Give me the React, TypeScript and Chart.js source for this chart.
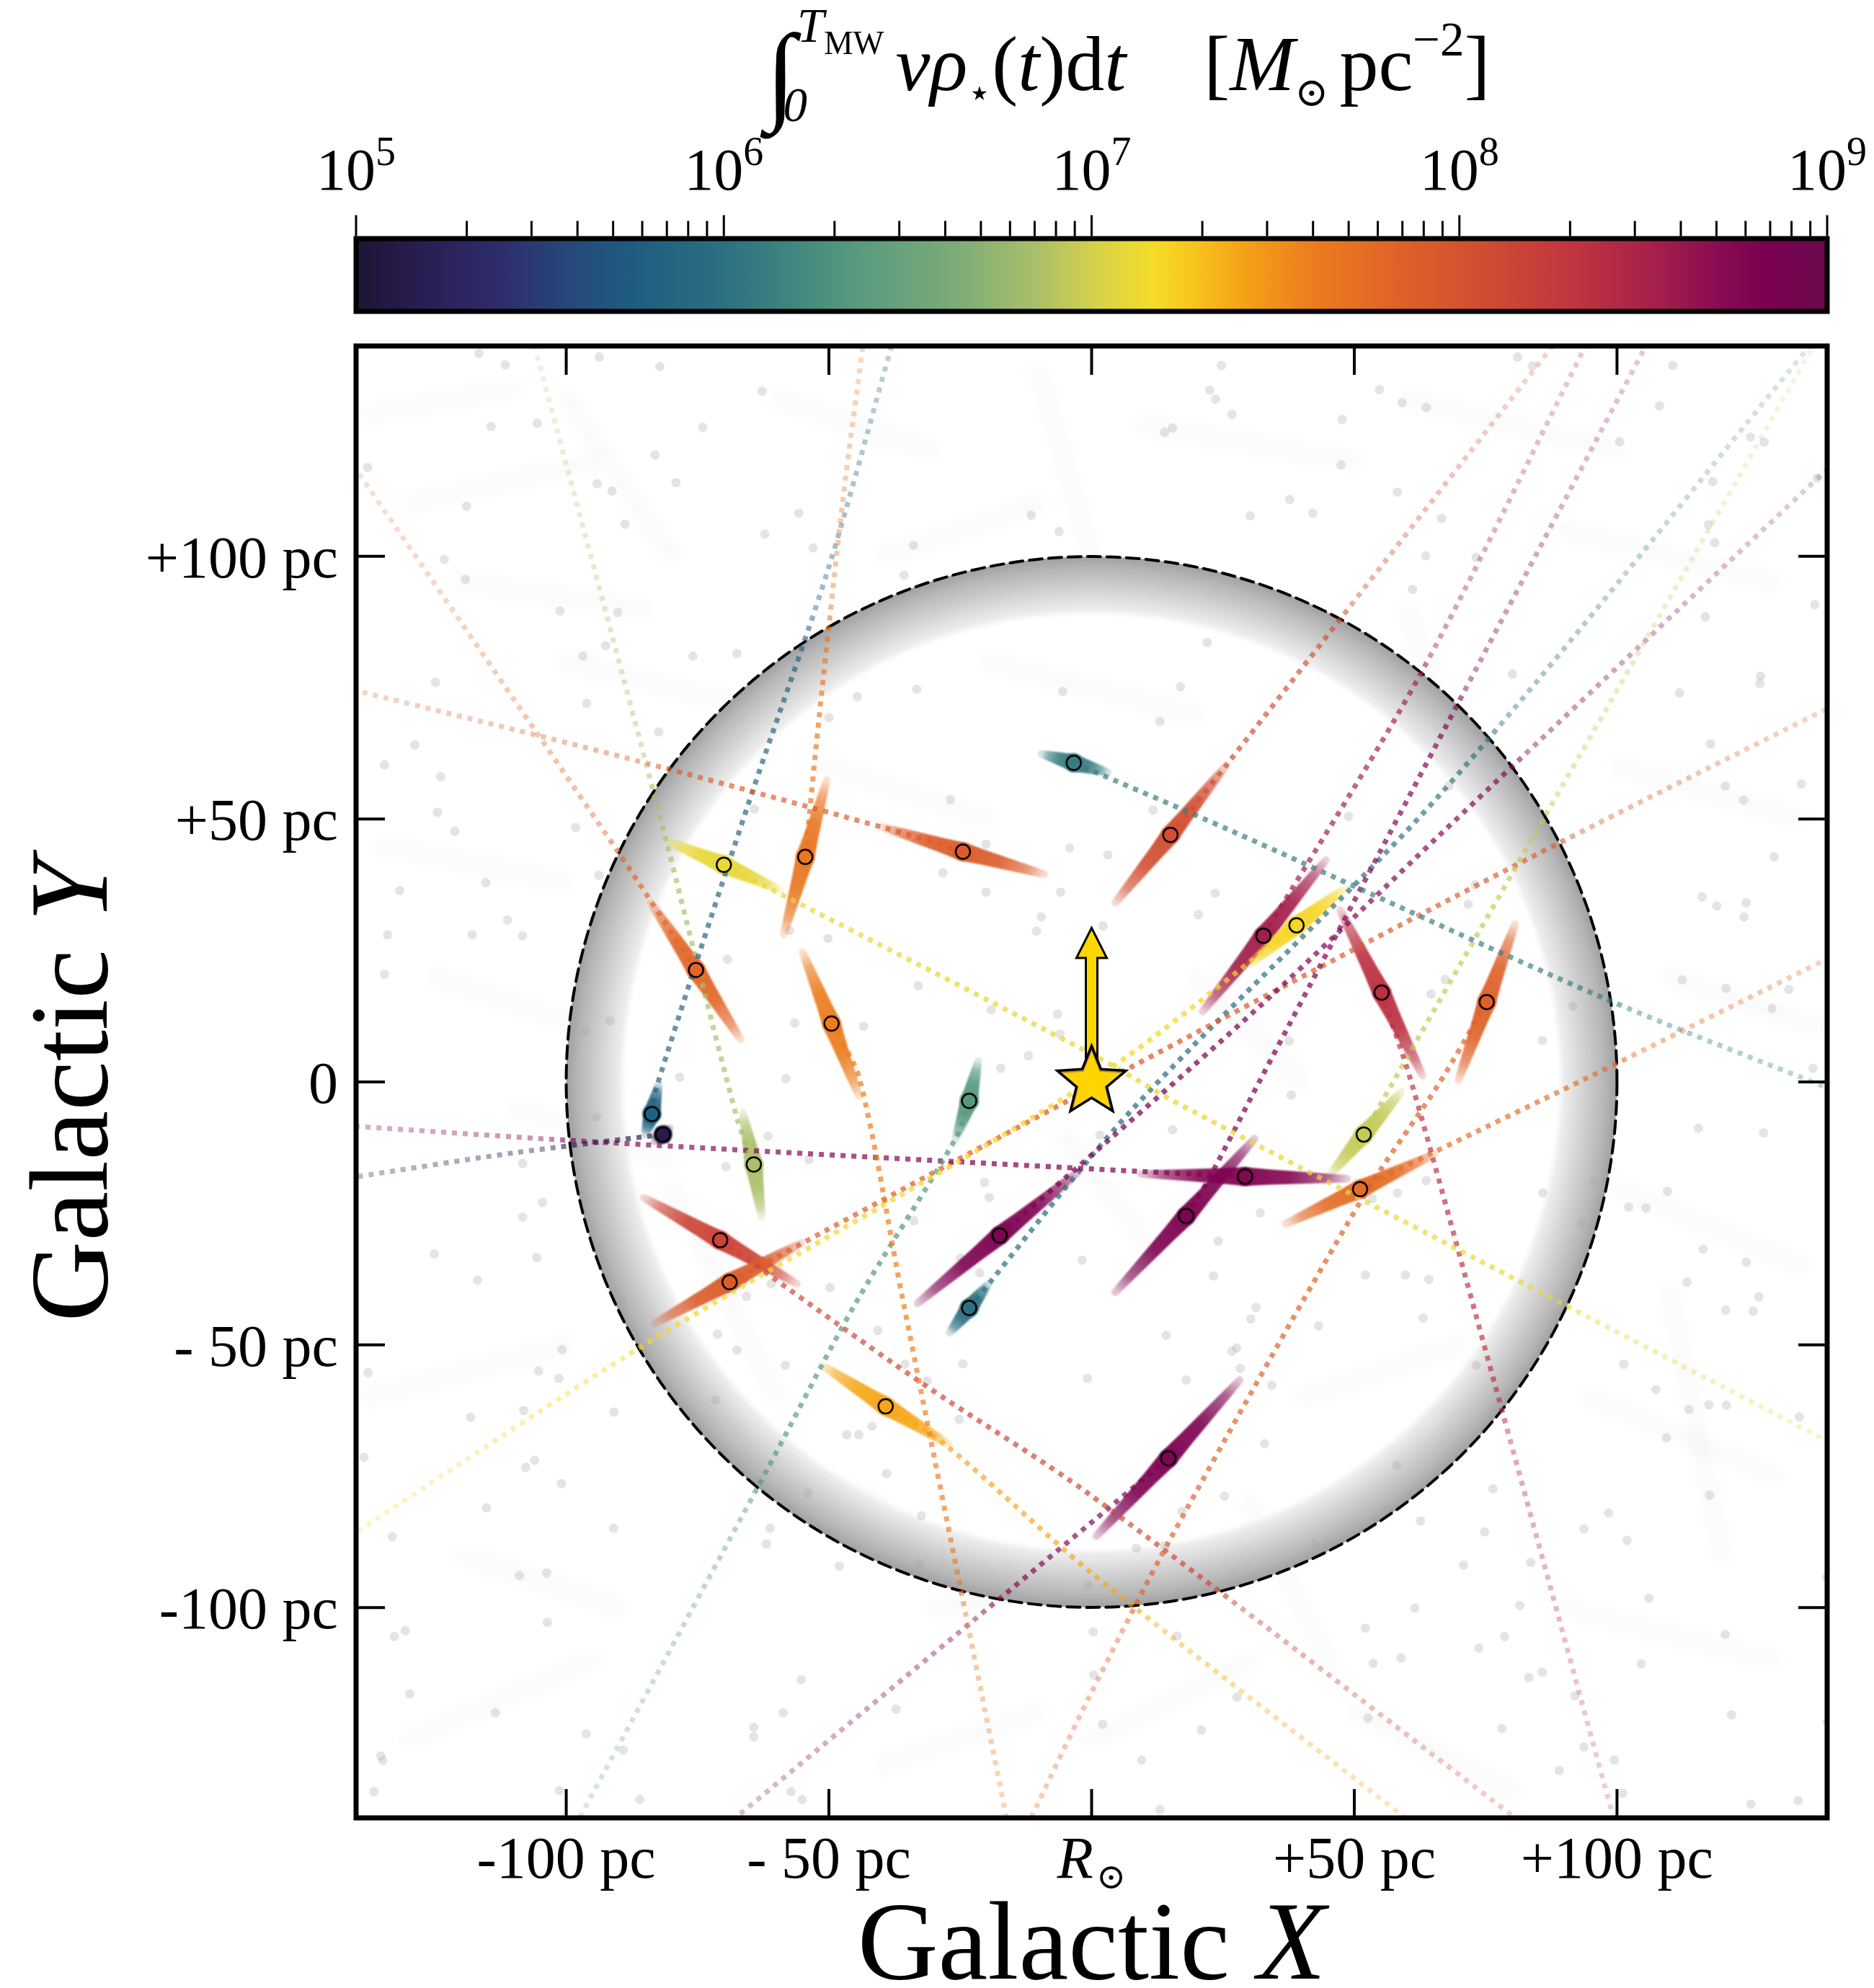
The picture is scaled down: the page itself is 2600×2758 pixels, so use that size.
import React, { useEffect, useRef } from "react";
import { Chart, registerables } from "chart.js";

Chart.register(...registerables);

const W = 2600;
const H = 2758;
const SERIF = '"Liberation Serif", "DejaVu Serif", serif';
const PLOT = { left: 494, right: 2535, top: 480, bottom: 2522 };
const CBAR = { top: 331, bottom: 432, height: 460 };

// ---------- colour map (log10 value -> colour) ----------
const CMAP_LOG = [5.0, 5.2, 5.4, 5.6, 5.75, 5.98, 6.17, 6.37, 6.63, 6.86, 7.02, 7.17, 7.28, 7.41, 7.6, 7.83, 8.09, 8.32, 8.55, 8.71, 8.84, 9.0];
const CMAP_HEX = ["#1e1432", "#2a1f55", "#2e2e6c", "#254a7a", "#1f5c80", "#2a6e80", "#3e8580", "#5a9a7e", "#7cac78", "#acc068", "#d8d248", "#f5dc2a", "#f8c41c", "#f5a318", "#eb7d1f", "#df6328", "#cf4a33", "#bf3440", "#a21e4c", "#880a52", "#7a0050", "#6a0a4e"];

// ---------- colorbar ticks ----------
const CBAR_MIN = 1e5;
const CBAR_MAX = 1e9;
const CBAR_MAJOR = [1e5, 1e6, 1e7, 1e8, 1e9];
const CBAR_EXPONENTS = ["5", "6", "7", "8", "9"];
const CBAR_MINOR_MULT = [2, 3, 4, 5, 6, 7, 8, 9];

// ---------- axes ----------
const AXIS_MIN = -140;
const AXIS_MAX = 140;
const X_TICKS = [-100, -50, 0, 50, 100];
const X_TICK_LABELS = ["-100 pc", "- 50 pc", "R⊙", "+50 pc", "+100 pc"];
const Y_TICKS = [100, 50, 0, -50, -100];
const Y_TICK_LABELS = ["+100 pc", "+50 pc", "0", "- 50 pc", "-100 pc"];

// ---------- sphere and Sun ----------
const SPHERE_RADIUS = 100;
const SPHERE_RING_INNER = 88.5;
const SUN_X = 0;
const SUN_Y = 0;
const SUN_ARROW_HEAD_BASE = 23.6;
const SUN_ARROW_TIP = 29.3;

// ---------- clusters (pc) ----------
const CLUSTER_X = [-3.4, 15, -24.5, -54.5, -70, -75.3, -49.5, 32.7, 39, 55.2, 75.2, -23.3, -83.7, -81.6, -64.3, 51.8, 29.2, 51.1, 18, -17.5, -70.7, -68.9, -23.3, -39.2, 14.6];
const CLUSTER_Y = [60.7, 47, 43.8, 42.8, 41.3, 21.3, 11.1, 27.8, 29.8, 17, 15.2, -3.6, -6.1, -10, -15.7, -10, -18, -20.4, -25.5, -29.2, -30.1, -38.1, -43, -61.7, -71.6];
const CLUSTER_LOGV = [6.1, 8.05, 7.9, 7.65, 7.1, 7.8, 7.6, 8.55, 7.2, 8.35, 7.85, 6.35, 5.8, 5.15, 6.85, 6.95, 8.75, 7.75, 8.8, 8.8, 8.15, 7.9, 6.0, 7.4, 8.8];
const TRAIL_HEAD_X = [3.1, 25.6, -9, -50.4, -59.2, -66.8, -44.3, 44.6, 48.2, 63, 80.6, -21.6, -82.4, -80.3, -66.4, 59, 48.6, 65.3, 31, -2.5, -56.1, -55.2, -19.6, -27.2, 28.2];
const TRAIL_HEAD_Y = [58.9, 60.2, 39.5, 57.4, 36.5, 8.1, -2.7, 42.2, 36.8, 1.2, 30, 3.9, -0.5, -8.8, -5.8, -1.8, -18.4, -13.7, -10.8, -17.1, -38.4, -30.6, -38.4, -68.9, -56.7];
const TRAIL_TAIL_X = [-9.5, 4.5, -39.9, -58.6, -80.7, -83.9, -55, 21.1, 30.1, 47.3, 69.8, -25.9, -85, -83.2, -62.8, 45.5, 9.4, 36.9, 4.5, -33.1, -85.3, -83.1, -27, -51.1, 0.9];
const TRAIL_TAIL_Y = [62.4, 34.1, 48.5, 28.1, 45.8, 34.1, 24.7, 13.4, 22.4, 32.7, 0.3, -10.8, -10, -11.3, -25.6, -17.5, -17.5, -27, -40, -42.1, -22, -45.9, -47.7, -54, -86.4];

// orbits (dotted), one per cluster, same order
const TRAJECTORIES = [
  [[-3.4, 60.7], [26.3, 47.9], [96.9, 16.2], [141, -1.5]],
  [[15, 47], [25.6, 60.2], [88.5, 141]],
  [[-24.5, 43.8], [-40, 48.5], [-90, 62], [-141, 74.7]],
  [[-54.5, 42.8], [-51.9, 69], [-47.3, 111], [-43.4, 141]],
  [[-70, 41.3], [0, 5.3], [17.4, -4.6], [141, -68.8]],
  [[-75.3, 21.3], [-90.3, 44], [-141, 118]],
  [[-49.5, 11.1], [-44.2, 0.7], [-36, -41.1], [-16, -141]],
  [[32.7, 27.8], [62.6, 77.6], [94.5, 141]],
  [[39, 29.8], [0.7, 0.7], [-84.8, -49.8], [-141, -86.3]],
  [[55.2, 17], [60.9, -0.2], [75.1, -51.5], [99.6, -141]],
  [[75.2, 15.2], [66.2, -0.2], [51.2, -22.7], [15.5, -86], [-0.7, -117.5], [-12, -141]],
  [[-23.3, -3.6], [-25.9, -10.8], [-45.2, -42.6], [-62, -74.2], [-98, -141]],
  [[-83.7, -6.1], [-82.9, -1.3], [-65.1, 53.6], [-50, 98], [-37.8, 141]],
  [[-81.6, -10], [-110, -13.5], [-141, -18.2]],
  [[-64.3, -15.7], [-67.5, -6.9], [-82.9, 53.3], [-106.3, 141]],
  [[51.8, -10], [57, -0.7], [100, 74.5], [138, 141]],
  [[29.2, -18], [1, -16.6], [-98, -11.2], [-141, -8.4]],
  [[51.1, -20.4], [64.3, -13.8], [94.2, 0.7], [141, 23.9]],
  [[18, -25.5], [22, -19], [31.9, 0], [106, 141]],
  [[-17.5, -29.2], [31.9, 14.3], [66.7, 47.4], [141, 117.5]],
  [[-70.7, -30.1], [-32.6, -57.1], [-0.2, -78.6], [82, -141]],
  [[-68.9, -38.1], [2.2, 0], [79.5, 40.6], [141, 71.5]],
  [[-23.3, -43], [7.4, -5.6], [66.7, 55.1], [137.5, 141]],
  [[-39.2, -61.7], [-28, -68.9], [0.7, -94], [61, -141]],
  [[14.6, -71.6], [0.7, -83.2], [-69, -141]],
];

// background stars (grey dots)
const BG_DOTS = [
  [-116.6, 138.6], [-111.6, 136.4], [-93.7, 137.9], [-82.2, 136.1], [-62.7, 131.4], [-114.3, 124.7], [-105.5, 125.3], [-74, 124.5], [-83.1, 119.3], [-137.8, 116.9],
  [-94.1, 113.8], [-91.3, 112.4], [-79.1, 114], [-119, 109.5], [-88.8, 106.1], [-55.7, 108.2], [-62.2, 104.2], [-53, 101.6], [-33.9, 102.1], [-35.7, 96.4],
  [-123.2, 99.4], [-119.2, 95.6], [-101.2, 89.6], [-90.2, 89.3], [-92.5, 83], [-96.8, 81], [-75.9, 81], [-67.5, 81.5], [-124.9, 76], [-96.1, 72],
  [-44.6, 73.3], [-50, 69.3], [-128.8, 64.1], [-82.4, 66.6], [-134.6, 60.3], [-123.9, 58.1], [-124.5, 51.3], [-121.2, 47.7], [-115.3, 37.9], [-131.7, 36.4],
  [-111.2, 30.8], [-117.9, 28], [-108.3, 27.8], [-134, 28], [-134.6, 20.5], [-93.8, 39.3], [-28.3, 39.8], [-20.1, 36.1], [-5.9, 36.1], [-26.9, 53.7],
  [-4.2, 44.5], [-5.5, 74.3], [-11.5, 107.8], [-6.2, 104.7], [-33.3, 74.7], [-69.3, 23.3], [-50.2, 27.3], [-56.5, 11.2],
  [-91.7, 11.6], [-96.3, 9.7], [-78.4, 0.9], [-58.2, 0.6], [-57.5, 28.8], [-43.4, 10.6], [-33, 18.3], [-64.2, 51.9], [-98.2, 48.4],
  [-9.6, 31.4], [-10.5, 28.7], [-19.1, 13.7], [-6.5, 12.9], [-6, 9.1], [-12, 5], [-17.3, 2.6], [-20.1, 45.2], [-1.8, -33.9], [-19.5, -22],
  [24.7, 136.3], [22.5, 131.6], [23.6, 129.9], [26.7, 127], [15.4, 124.4], [13.9, 123.6], [54.8, 131.7], [59.1, 129.2], [63.7, 128.3], [47.7, 126],
  [47.5, 117.4], [58.2, 112.2], [37.7, 110.8], [42.1, 108.2], [30.2, 107.7], [81.1, 137.9], [83.9, 136.2], [110.6, 136.3], [108.1, 128.6], [100.5, 121.8],
  [125.4, 122.7], [128, 121.7], [118.2, 114.2], [138.1, 114.9], [66.6, 107.2], [117.4, 106], [118.6, 102.6], [137.6, 90.8], [116.8, 88.5], [61.1, 93.7],
  [63.6, 100.1], [73.2, 99.8], [80.1, 77.6], [111.9, 74], [127.3, 77.2], [127.2, 75.8], [117.8, 64.3], [120.6, 56.3], [124.1, 53.6], [135.1, 56.7],
  [129.9, 42.8], [116.2, 35.2], [119, 33.5], [124.6, 34.1], [124.2, 31.4], [112.4, 19.4], [129.5, 14], [132.7, 17.6], [120.8, 17.8], [137.3, 2.6],
  [13, 68.6], [16.9, 75.2], [22, 83.6], [3.1, 43.2], [11.7, 51.7], [48.9, 50.5], [68, 56.3], [71.7, 33.8], [73, 37.5], [85.8, 7.9],
  [67.3, 19.5], [64.6, 16.7], [91.6, 14.4], [37.6, 7.8], [20.3, 31.8], [23.5, 35.9], [2.2, 29.7],
  [-108.3, -15.5], [-104.5, -22.9], [-108.3, -25.7], [-125.1, -32.7], [-105.6, -33.4], [-116.9, -37.7], [-89.4, -41.4], [-100.8, -50.9], [-105.3, -55], [-101.4, -56.4],
  [-137.7, -55.3], [-118.2, -63.8], [-108.1, -62.5], [-90.9, -62.8], [-71.6, -60.5], [-58.3, -53.9], [-67.5, -51], [-71.2, -48], [-138.5, -71.4], [-107.7, -73.3],
  [-106, -72], [-100.9, -76.4], [-115.2, -81], [-133.1, -86.5], [-91, -84.9], [-61.2, -84.9], [-61.9, -87.9], [-54, -78.2], [-39, -74.5], [-46.6, -67.1],
  [-44.3, -67.1], [-41.8, -65.5], [-32.4, -82.5], [-48, -92.1], [-32.8, -91.8], [-108.9, -93.9], [-103.7, -93.4], [-103.6, -102.8], [-130.6, -104.4], [-132.7, -105.5],
  [-129.8, -116.4], [-113.5, -120], [-96.2, -124], [-89.1, -127.1], [-135.3, -128.2], [-134.9, -129.1], [-136.6, -135], [-101.3, -134.8], [-86, -136.5], [-64.3, -122.8],
  [-64.3, -124.6], [-58.7, -120], [-55.3, -113.7], [-57.2, -135], [-55.1, -136.5], [-37.2, -119.3], [-35.5, -53.7], [-31.3, -56.9], [-25.2, -64.2], [-25, -33.5],
  [-21.3, -36.3], [-20.4, -19.1], [-33.8, -26.4], [-40.7, -47.3], [-49.8, -39.1], [-65.7, -40.8], [-61, -38.4], [-0.8, -56.4], [-0.6, -95.8], [-24.5, -53.6],
  [-94.3, -6.7], [-69.6, -16.1], [-53.8, -14.8], [-61.6, -10.3],
  [38, -2.5], [15.4, -9.1], [1.6, -10.1], [32.1, -24.9], [24.1, -30.3], [23.2, -36.9], [31.3, -42.9], [30.3, -45.1], [14.2, -48.2], [26.7, -51.2],
  [27.6, -50.6], [18, -56.7], [28.3, -54.5], [34.3, -57.7], [32.9, -68.8], [25.3, -78.8], [17.2, -81.7], [8.5, -88.7], [13.9, -88.2], [43.2, -46.4],
  [52.1, -36.7], [59.7, -36.7], [64.2, -37.6], [63.1, -44.9], [58.2, -21.1], [53.4, -22.2], [63.7, -18.8], [85.9, -21.1], [95.7, -18.9], [93.3, -26.7],
  [102.2, -23.8], [105.5, -24], [109.6, -20.8], [115.5, -8.8], [127.9, -9.7], [116.4, -31.8], [124.6, -34.3], [113.3, -38.1], [127, -40.9], [120.7, -43.4],
  [125.9, -43.6], [101.3, -53.7], [107.4, -58.5], [113.7, -62.3], [117.5, -61.4], [120.8, -61.5], [134.7, -63.7], [109.4, -67.7], [73.2, -53.9], [58.1, -72.9],
  [76.4, -77.4], [62.6, -83.5], [74.8, -85.6], [83.6, -91.4], [93.7, -85], [98.4, -82], [101.9, -87.2], [117.6, -78.6], [139.9, -94.3], [106.1, -98.2],
  [81.5, -99.6], [70.8, -91.9], [61.5, -100.1], [52.1, -103.9], [78.6, -105.5], [73.7, -107.7], [58.9, -109.6], [53.6, -110.6], [85.8, -112.3], [83.2, -113.3],
  [104.6, -110.7], [120.6, -105.1], [92, -116.8], [121.8, -120.4], [93.7, -126.5], [78.1, -123], [89, -131], [99.5, -129], [125.5, -137.4], [134.5, -136.7],
  [101.1, -135.3], [140, -121.8], [52.6, -121], [20.9, -123.3], [9.5, -129], [13, -138.4], [27.7, -117], [2.1, -122.2], [0.4, -112.8], [16.3, -105.4],
  [0.3, -104.6], [42.6, -87.8], [45, -88],
];

// faint gas filaments of the background map: [x1, y1, x2, y2] in pc
const FILAMENTS = [
  [-138, 127, -110, 132], [-130, 110, -95, 118], [-120, 95, -85, 90], [-100, 80, -60, 70], [-135, 45, -100, 38],
  [-125, 20, -95, 10], [-110, -5, -80, -15], [-138, -60, -100, -50], [-120, -90, -90, -100], [-130, -125, -95, -110],
  [-60, 130, -30, 120], [-40, 100, -10, 110], [-20, 80, 20, 70], [10, 125, 50, 118], [60, 130, 100, 120],
  [90, 105, 130, 95], [100, 60, 135, 50], [110, 20, 140, 10], [100, -20, 135, -35], [95, -60, 130, -75],
  [90, -100, 130, -110], [50, -120, 80, -135], [0, -125, 30, -110], [-40, -130, -10, -120], [-50, 60, -20, 50],
  [20, 20, 40, 0], [-5, -10, 10, -30], [40, -60, 70, -50], [-70, -70, -40, -80], [-30, -100, 0, -95],
  [-100, 130, -80, 100], [-80, -20, -60, -60], [60, 90, 70, 60], [110, -40, 120, -90], [-10, 135, 0, 100], [30, -80, 45, -110],
];

// ---------- helpers ----------
function hexToRgb(h) {
  const v = parseInt(h.slice(1), 16);
  return [(v >> 16) & 255, (v >> 8) & 255, v & 255];
}
function cmap(v) {
  if (v <= CMAP_LOG[0]) return hexToRgb(CMAP_HEX[0]);
  for (let i = 1; i < CMAP_LOG.length; i++) {
    if (v <= CMAP_LOG[i]) {
      const t = (v - CMAP_LOG[i - 1]) / (CMAP_LOG[i] - CMAP_LOG[i - 1]);
      const a = hexToRgb(CMAP_HEX[i - 1]);
      const b = hexToRgb(CMAP_HEX[i]);
      return [0, 1, 2].map((k) => Math.round(a[k] + (b[k] - a[k]) * t));
    }
  }
  return hexToRgb(CMAP_HEX[CMAP_HEX.length - 1]);
}
function rgba(c, a) {
  return `rgba(${c[0]},${c[1]},${c[2]},${a})`;
}

function trajColor(ctx, rgb) {
  const chart = ctx.chart;
  if (!chart.chartArea || !chart.scales.x) return rgba(rgb, 0.6);
  const xs = chart.scales.x;
  const ys = chart.scales.y;
  const cx = xs.getPixelForValue(SUN_X);
  const cy = ys.getPixelForValue(SUN_Y);
  const r = xs.getPixelForValue(SPHERE_RADIUS) - cx;
  const g = chart.ctx.createRadialGradient(cx, cy, 0, cx, cy, r * 2);
  g.addColorStop(0, rgba(rgb, 0.75));
  g.addColorStop(0.5, rgba(rgb, 0.66));
  g.addColorStop(0.52, rgba(rgb, 0.44));
  g.addColorStop(0.75, rgba(rgb, 0.28));
  g.addColorStop(1, rgba(rgb, 0.16));
  return g;
}

// tapered, fading half-trail from the cluster towards one end
function drawHalfTrail(ctx, x0, y0, x1, y1, rgb) {
  const dx = x1 - x0;
  const dy = y1 - y0;
  const L = Math.hypot(dx, dy);
  if (L < 1) return;
  const ux = dx / L;
  const uy = dy / L;
  const nx = -uy;
  const ny = ux;
  const w0 = 26;
  const wm = 21;
  const w1 = 10.5;
  const tm = 0.25;
  const ang = Math.atan2(dy, dx);
  const g = ctx.createLinearGradient(x0, y0, x1, y1);
  g.addColorStop(0, rgba(rgb, 0.97));
  g.addColorStop(0.45, rgba(rgb, 0.9));
  g.addColorStop(0.8, rgba(rgb, 0.62));
  g.addColorStop(1, rgba(rgb, 0.22));
  ctx.fillStyle = g;
  const mx = x0 + dx * tm;
  const my = y0 + dy * tm;
  ctx.beginPath();
  ctx.moveTo(x0 + (nx * w0) / 2, y0 + (ny * w0) / 2);
  ctx.lineTo(mx + (nx * wm) / 2, my + (ny * wm) / 2);
  ctx.lineTo(x1 + (nx * w1) / 2, y1 + (ny * w1) / 2);
  ctx.arc(x1, y1, w1 / 2, ang + Math.PI / 2, ang - Math.PI / 2, true);
  ctx.lineTo(mx - (nx * wm) / 2, my - (ny * wm) / 2);
  ctx.lineTo(x0 - (nx * w0) / 2, y0 - (ny * w0) / 2);
  ctx.arc(x0, y0, w0 / 2, ang - Math.PI / 2, ang + Math.PI / 2, true);
  ctx.closePath();
  ctx.fill();
}

function starPath(ctx, cx, cy, R, r) {
  ctx.beginPath();
  for (let i = 0; i < 10; i++) {
    const a = -Math.PI / 2 + (i * Math.PI) / 5;
    const rad = i % 2 === 0 ? R : r;
    const px = cx + rad * Math.cos(a);
    const py = cy + rad * Math.sin(a);
    if (i === 0) ctx.moveTo(px, py);
    else ctx.lineTo(px, py);
  }
  ctx.closePath();
}

const BG_INDEX = 1 + TRAJECTORIES.length;

const mainPlugin = {
  id: "mainDecor",
  beforeDatasetsDraw(chart) {
    const ctx = chart.ctx;
    const ca = chart.chartArea;
    const xs = chart.scales.x;
    const ys = chart.scales.y;
    ctx.save();
    ctx.beginPath();
    ctx.rect(ca.left, ca.top, ca.right - ca.left, ca.bottom - ca.top);
    ctx.clip();
    // filaments
    ctx.filter = "blur(9px)";
    ctx.strokeStyle = "rgba(150,150,150,0.06)";
    ctx.lineWidth = 20;
    ctx.lineCap = "round";
    for (const f of FILAMENTS) {
      ctx.beginPath();
      ctx.moveTo(xs.getPixelForValue(f[0]), ys.getPixelForValue(f[1]));
      ctx.lineTo(xs.getPixelForValue(f[2]), ys.getPixelForValue(f[3]));
      ctx.stroke();
    }
    ctx.filter = "none";
    // grey ring of the sphere
    const cx = xs.getPixelForValue(SUN_X);
    const cy = ys.getPixelForValue(SUN_Y);
    const R = xs.getPixelForValue(SPHERE_RADIUS) - cx;
    const Ri = xs.getPixelForValue(SPHERE_RING_INNER) - cx;
    const g = ctx.createRadialGradient(cx, cy, Ri, cx, cy, R);
    g.addColorStop(0, "rgba(245,245,245,0)");
    g.addColorStop(0.12, "rgba(236,236,236,0.95)");
    g.addColorStop(0.45, "rgba(210,210,210,1)");
    g.addColorStop(0.8, "rgba(182,182,182,1)");
    g.addColorStop(1, "rgba(160,160,160,1)");
    ctx.fillStyle = g;
    ctx.beginPath();
    ctx.arc(cx, cy, R, 0, Math.PI * 2);
    ctx.arc(cx, cy, Ri, 0, Math.PI * 2, true);
    ctx.fill("evenodd");
    // dashed boundary
    ctx.setLineDash([18, 9]);
    ctx.strokeStyle = "#000";
    ctx.lineWidth = 4;
    ctx.beginPath();
    ctx.arc(cx, cy, R, 0, Math.PI * 2);
    ctx.stroke();
    ctx.setLineDash([]);
    ctx.restore();
  },
  afterDatasetDraw(chart, args) {
    if (args.index !== BG_INDEX) return;
    const ctx = chart.ctx;
    const ca = chart.chartArea;
    const xs = chart.scales.x;
    const ys = chart.scales.y;
    ctx.save();
    ctx.beginPath();
    ctx.rect(ca.left, ca.top, ca.right - ca.left, ca.bottom - ca.top);
    ctx.clip();
    ctx.filter = "blur(1.3px)";
    for (let i = 0; i < CLUSTER_X.length; i++) {
      const rgb = cmap(CLUSTER_LOGV[i]);
      const x0 = xs.getPixelForValue(CLUSTER_X[i]);
      const y0 = ys.getPixelForValue(CLUSTER_Y[i]);
      drawHalfTrail(ctx, x0, y0, xs.getPixelForValue(TRAIL_HEAD_X[i]), ys.getPixelForValue(TRAIL_HEAD_Y[i]), rgb);
      drawHalfTrail(ctx, x0, y0, xs.getPixelForValue(TRAIL_TAIL_X[i]), ys.getPixelForValue(TRAIL_TAIL_Y[i]), rgb);
    }
    ctx.filter = "none";
    ctx.restore();
  },
  afterDraw(chart) {
    const ctx = chart.ctx;
    const ca = chart.chartArea;
    const xs = chart.scales.x;
    const ys = chart.scales.y;
    ctx.save();
    // Sun velocity arrow
    const sx = xs.getPixelForValue(SUN_X);
    const sy = ys.getPixelForValue(SUN_Y);
    const yb = ys.getPixelForValue(SUN_ARROW_HEAD_BASE);
    const yt = ys.getPixelForValue(SUN_ARROW_TIP);
    const hw = 8;
    const hh = 21;
    ctx.beginPath();
    ctx.moveTo(sx - hw, sy);
    ctx.lineTo(sx - hw, yb);
    ctx.lineTo(sx - hh, yb);
    ctx.lineTo(sx, yt);
    ctx.lineTo(sx + hh, yb);
    ctx.lineTo(sx + hw, yb);
    ctx.lineTo(sx + hw, sy);
    ctx.closePath();
    ctx.fillStyle = "#ffd700";
    ctx.fill();
    ctx.lineWidth = 3;
    ctx.lineJoin = "miter";
    ctx.strokeStyle = "#000";
    ctx.stroke();
    // Sun star
    starPath(ctx, sx, sy, 50, 22);
    ctx.fillStyle = "#b08a3a";
    ctx.fill();
    starPath(ctx, sx, sy + 1, 43, 19);
    ctx.fillStyle = "#ffd400";
    ctx.fill();
    starPath(ctx, sx, sy, 50, 22);
    ctx.lineWidth = 3.5;
    ctx.strokeStyle = "#000";
    ctx.stroke();

    // frame
    ctx.lineWidth = 7;
    ctx.strokeStyle = "#000";
    ctx.strokeRect(ca.left, ca.top, ca.right - ca.left, ca.bottom - ca.top);
    // inward ticks on all four sides
    ctx.lineWidth = 4;
    ctx.lineCap = "butt";
    for (const v of X_TICKS) {
      const px = xs.getPixelForValue(v);
      ctx.beginPath();
      ctx.moveTo(px, ca.bottom);
      ctx.lineTo(px, ca.bottom - 40);
      ctx.moveTo(px, ca.top);
      ctx.lineTo(px, ca.top + 40);
      ctx.stroke();
    }
    for (const v of Y_TICKS) {
      const py = ys.getPixelForValue(v);
      ctx.beginPath();
      ctx.moveTo(ca.left, py);
      ctx.lineTo(ca.left + 40, py);
      ctx.moveTo(ca.right, py);
      ctx.lineTo(ca.right - 40, py);
      ctx.stroke();
    }
    // tick labels
    ctx.fillStyle = "#000";
    ctx.textBaseline = "alphabetic";
    const TF = 82;
    X_TICKS.forEach((v, i) => {
      const px = xs.getPixelForValue(v);
      const lab = X_TICK_LABELS[i];
      if (lab === "R⊙") {
        ctx.font = `italic ${TF}px ${SERIF}`;
        const wR = ctx.measureText("R").width;
        ctx.font = `${TF * 0.6}px ${SERIF}`;
        const wO = ctx.measureText("⊙").width;
        const start = px - (wR + 4 + wO) / 2;
        ctx.font = `italic ${TF}px ${SERIF}`;
        ctx.textAlign = "left";
        ctx.fillText("R", start, ca.bottom + 83);
        ctx.font = `${TF * 0.6}px ${SERIF}`;
        ctx.fillText("⊙", start + wR + 4, ca.bottom + 98);
      } else {
        ctx.font = `${TF}px ${SERIF}`;
        ctx.textAlign = "center";
        ctx.fillText(lab, px, ca.bottom + 83);
      }
    });
    ctx.font = `${TF}px ${SERIF}`;
    ctx.textAlign = "right";
    Y_TICKS.forEach((v, i) => {
      const py = ys.getPixelForValue(v);
      ctx.fillText(Y_TICK_LABELS[i], ca.left - 25, py + 29);
    });
    // axis titles
    const AF = 155;
    const midX = (ca.left + ca.right) / 2;
    const midY = (ca.top + ca.bottom) / 2;
    const drawTitle = (word, letter) => {
      ctx.font = `${AF}px ${SERIF}`;
      const w1 = ctx.measureText(word + " ").width;
      ctx.font = `italic ${AF}px ${SERIF}`;
      const w2 = ctx.measureText(letter).width;
      const start = -(w1 + w2) / 2;
      ctx.textAlign = "left";
      ctx.font = `${AF}px ${SERIF}`;
      ctx.fillText(word + " ", start, 0);
      ctx.font = `italic ${AF}px ${SERIF}`;
      ctx.fillText(letter, start + w1, 0);
    };
    ctx.save();
    ctx.translate(midX, 2745);
    drawTitle("Galactic", "X");
    ctx.restore();
    ctx.save();
    ctx.translate(148, midY + 12);
    ctx.rotate(-Math.PI / 2);
    drawTitle("Galactic", "Y");
    ctx.restore();
    ctx.restore();
  },
};

function drawCbarTitle(ctx, centerX, base) {
  const F = 108;
  const items = [];
  let x = 0;
  const font = (s, it) => `${it ? "italic " : ""}${s}px ${SERIF}`;
  const meas = (t, s, it) => {
    ctx.font = font(s, it);
    return ctx.measureText(t).width;
  };
  const put = (t, s, it, dy) => {
    items.push({ t, s, it, x, dy });
    x += meas(t, s, it);
  };
  put("∫", 1.4 * F, false, 0.25 * F);
  const xs = x;
  const w0 = meas("0", 0.62 * F, true);
  items.push({ t: "0", s: 0.62 * F, it: true, x: xs - 0.16 * F, dy: 0.4 * F });
  items.push({ t: "T", s: 0.62 * F, it: true, x: xs + 0.02 * F, dy: -0.62 * F });
  const wT = meas("T", 0.62 * F, true);
  items.push({ t: "MW", s: 0.42 * F, it: false, x: xs + 0.02 * F + wT, dy: -0.46 * F });
  const wMW = meas("MW", 0.42 * F, false);
  x = Math.max(xs - 0.16 * F + w0, xs + 0.02 * F + wT + wMW) + 0.15 * F;
  put("v", F, true, 0);
  put("ρ", F, true, 0);
  put("⋆", 0.5 * F, false, 0.2 * F);
  put("(", F, false, 0);
  put("t", F, true, 0);
  put(")", F, false, 0);
  put("d", F, false, 0);
  put("t", F, true, 0);
  x += 1.0 * F;
  put("[", F, false, 0);
  put("M", F, true, 0);
  put("⊙", 0.52 * F, false, 0.2 * F);
  x += 0.14 * F;
  put("pc", F, false, 0);
  put("−2", 0.62 * F, false, -0.44 * F);
  put("]", F, false, 0);
  const x0 = centerX - x / 2;
  ctx.fillStyle = "#000";
  ctx.textAlign = "left";
  ctx.textBaseline = "alphabetic";
  for (const it of items) {
    ctx.font = font(it.s, it.it);
    ctx.fillText(it.t, x0 + it.x, base + it.dy);
  }
}

const cbarPlugin = {
  id: "cbarDecor",
  afterDraw(chart) {
    const ctx = chart.ctx;
    const ca = chart.chartArea;
    const xs = chart.scales.x;
    ctx.save();
    const g = ctx.createLinearGradient(ca.left, 0, ca.right, 0);
    const lmin = Math.log10(CBAR_MIN);
    const lmax = Math.log10(CBAR_MAX);
    CMAP_LOG.forEach((v, i) => g.addColorStop((v - lmin) / (lmax - lmin), CMAP_HEX[i]));
    ctx.fillStyle = g;
    ctx.fillRect(ca.left, ca.top, ca.right - ca.left, ca.bottom - ca.top);
    ctx.lineWidth = 7;
    ctx.strokeStyle = "#000";
    ctx.strokeRect(ca.left, ca.top, ca.right - ca.left, ca.bottom - ca.top);
    // ticks (pointing up, outside)
    ctx.lineWidth = 3;
    const top = ca.top - 3.5;
    for (const v of CBAR_MAJOR) {
      const px = xs.getPixelForValue(v);
      ctx.beginPath();
      ctx.moveTo(px, top);
      ctx.lineTo(px, top - 29);
      ctx.stroke();
    }
    for (let k = 0; k < CBAR_MAJOR.length - 1; k++) {
      for (const m of CBAR_MINOR_MULT) {
        const px = xs.getPixelForValue(CBAR_MAJOR[k] * m);
        ctx.beginPath();
        ctx.moveTo(px, top);
        ctx.lineTo(px, top - 21);
        ctx.stroke();
      }
    }
    // labels 10^n
    ctx.fillStyle = "#000";
    ctx.textBaseline = "alphabetic";
    ctx.textAlign = "left";
    CBAR_MAJOR.forEach((v, i) => {
      const px = xs.getPixelForValue(v);
      ctx.font = `82px ${SERIF}`;
      const w1 = ctx.measureText("10").width;
      ctx.font = `56px ${SERIF}`;
      const w2 = ctx.measureText(CBAR_EXPONENTS[i]).width;
      const start = px - (w1 + w2) / 2;
      ctx.font = `82px ${SERIF}`;
      ctx.fillText("10", start, 263);
      ctx.font = `56px ${SERIF}`;
      ctx.fillText(CBAR_EXPONENTS[i], start + w1, 229);
    });
    drawCbarTitle(ctx, 1565, 125);
    ctx.restore();
  },
};

export default function App() {
  const mainRef = useRef(null);
  const cbarRef = useRef(null);

  useEffect(() => {
    const markerData = CLUSTER_X.map((x, i) => ({ x, y: CLUSTER_Y[i] }));
    const markerColors = CLUSTER_LOGV.map((v) => rgba(cmap(v), 1));
    const trajSets = TRAJECTORIES.map((pts, i) => {
      const rgb = cmap(CLUSTER_LOGV[i]);
      return {
        label: "orbit " + (i + 1),
        data: pts.map((p) => ({ x: p[0], y: p[1] })),
        showLine: true,
        pointRadius: 0,
        borderWidth: 7,
        borderDash: [7, 8],
        borderCapStyle: "butt",
        tension: 0.3,
        fill: false,
        borderColor: (ctx) => trajColor(ctx, rgb),
        order: 1,
      };
    });
    const bgSet = {
      label: "stars",
      data: BG_DOTS.map((p) => ({ x: p[0], y: p[1] })),
      pointRadius: 6.5,
      pointBackgroundColor: "rgba(165,165,165,0.3)",
      pointBorderWidth: 0,
      showLine: false,
      order: 2,
    };
    const markerSet = {
      label: "clusters",
      data: markerData,
      pointRadius: 10,
      pointBackgroundColor: markerColors,
      pointBorderColor: "#000",
      pointBorderWidth: 2.5,
      showLine: false,
      order: 0,
    };
    const axisCommon = {
      type: "linear",
      min: AXIS_MIN,
      max: AXIS_MAX,
      ticks: { display: false },
      grid: { display: false, drawTicks: false },
      border: { display: false },
      title: { display: false },
    };
    const main = new Chart(mainRef.current, {
      type: "scatter",
      data: { datasets: [markerSet, ...trajSets, bgSet] },
      options: {
        animation: false,
        responsive: false,
        devicePixelRatio: 1,
        events: [],
        layout: { padding: { left: 0, right: W - PLOT.right, top: PLOT.top, bottom: 0 } },
        plugins: { legend: { display: false }, tooltip: { enabled: false } },
        scales: {
          x: { ...axisCommon, position: "bottom", afterFit: (s) => { s.height = H - PLOT.bottom; } },
          y: { ...axisCommon, position: "left", afterFit: (s) => { s.width = PLOT.left; } },
        },
      },
      plugins: [mainPlugin],
    });

    const cbar = new Chart(cbarRef.current, {
      type: "scatter",
      data: { datasets: [] },
      options: {
        animation: false,
        responsive: false,
        devicePixelRatio: 1,
        events: [],
        layout: { padding: { left: 0, right: W - PLOT.right, top: CBAR.top, bottom: CBAR.height - CBAR.bottom } },
        plugins: { legend: { display: false }, tooltip: { enabled: false } },
        scales: {
          x: {
            type: "logarithmic",
            min: CBAR_MIN,
            max: CBAR_MAX,
            position: "bottom",
            ticks: { display: false },
            grid: { display: false, drawTicks: false },
            border: { display: false },
            afterFit: (s) => { s.height = 0; },
          },
          y: {
            type: "linear",
            min: 0,
            max: 1,
            ticks: { display: false },
            grid: { display: false, drawTicks: false },
            border: { display: false },
            afterFit: (s) => { s.width = PLOT.left; },
          },
        },
      },
      plugins: [cbarPlugin],
    });

    return () => {
      main.destroy();
      cbar.destroy();
    };
  }, []);

  return (
    <div style={{ position: "absolute", left: 0, top: 0, width: W, height: H, background: "#fff" }}>
      <canvas ref={mainRef} width={W} height={H} style={{ position: "absolute", left: 0, top: 0, width: W, height: H }} />
      <canvas ref={cbarRef} width={W} height={CBAR.height} style={{ position: "absolute", left: 0, top: 0, width: W, height: CBAR.height }} />
    </div>
  );
}
